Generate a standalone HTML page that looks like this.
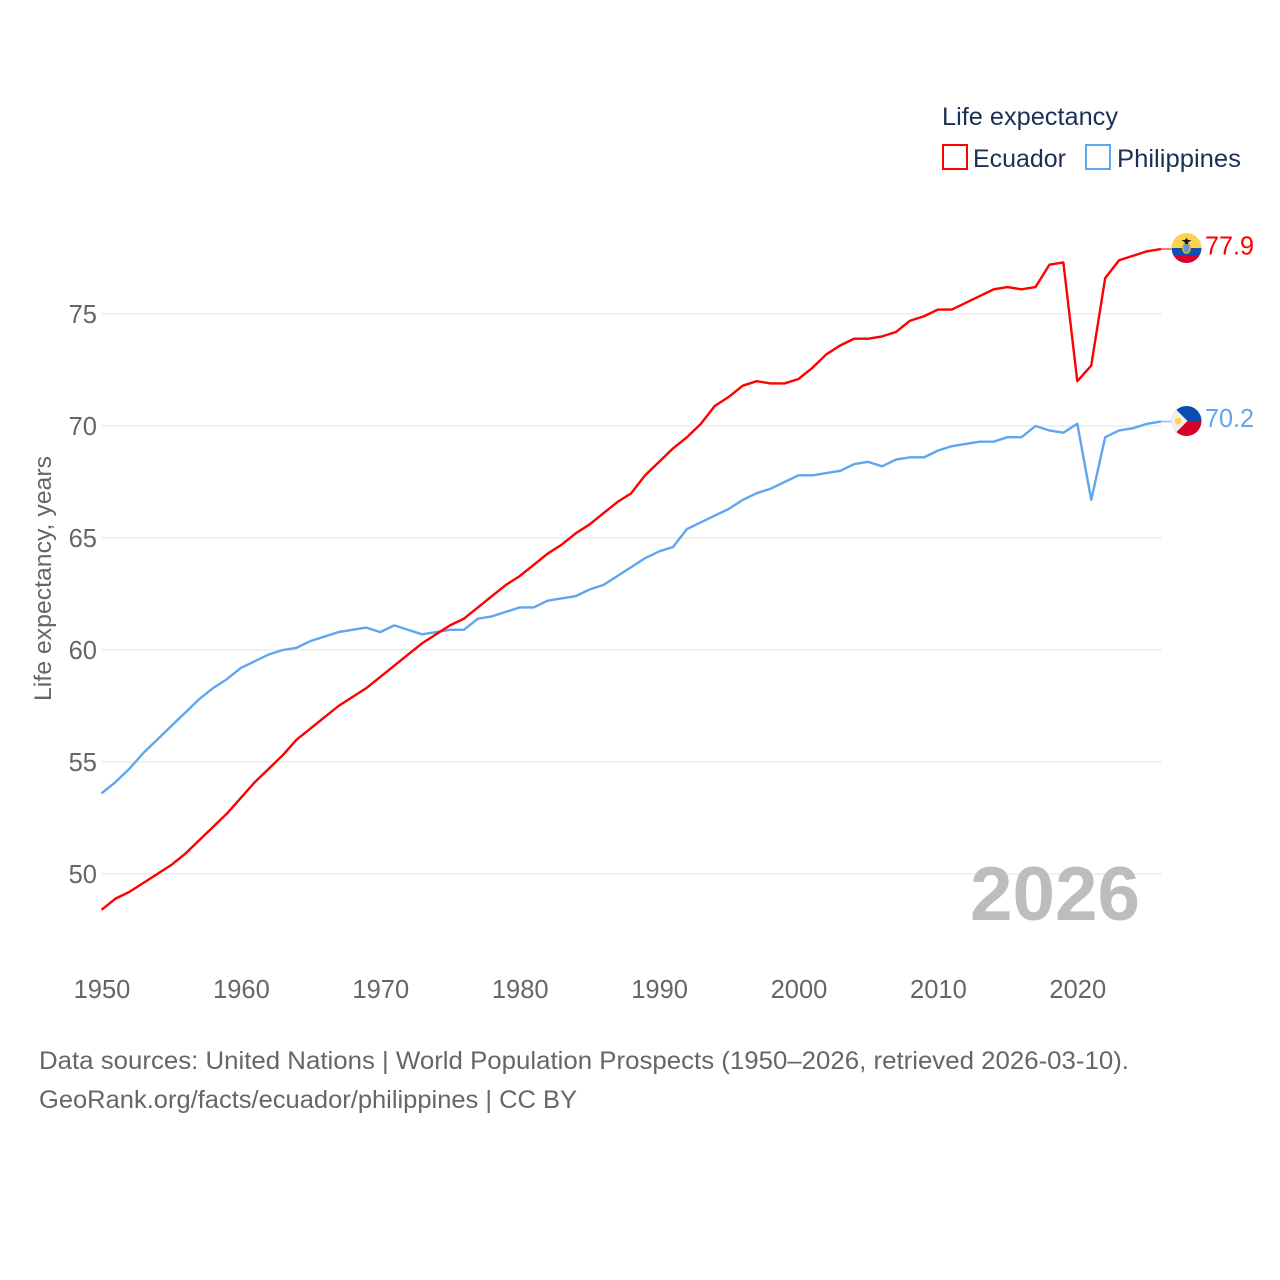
<!DOCTYPE html>
<html lang="en">
<head>
<meta charset="utf-8">
<title>Life expectancy: Ecuador and Philippines</title>
<style>
  html, body { margin: 0; padding: 0; background: #fff; }
  svg { display: block; font-family: "Liberation Sans", Arial, sans-serif; }
</style>
</head>
<body>
<svg id="chart" xmlns="http://www.w3.org/2000/svg" width="1280" height="1280" viewBox="0 0 1280 1280">
  <defs>
    <clipPath id="clip-ec"><circle cx="1186.5" cy="248" r="15"></circle></clipPath>
    <clipPath id="clip-ph"><circle cx="1186.5" cy="421" r="15"></circle></clipPath>
  </defs>
  <rect width="1280" height="1280" fill="#ffffff"></rect>

  <g id="grid"></g>
  <g id="y-ticks"></g>
  <g id="x-ticks"></g>

  <text transform="translate(51,701) rotate(-90)" font-size="24.5" fill="#666666" textLength="245" lengthAdjust="spacingAndGlyphs">Life expectancy, years</text>

  <text x="970" y="920" font-size="76" font-weight="700" fill="#bdbdbd" textLength="170" lengthAdjust="spacingAndGlyphs">2026</text>

  <g id="series"></g>

  <g clip-path="url(#clip-ec)">
    <rect x="1171" y="233" width="31" height="15" fill="#fdd24f"></rect>
    <rect x="1171" y="248" width="31" height="8" fill="#0f4fb0"></rect>
    <rect x="1171" y="256" width="31" height="8" fill="#d80027"></rect>
    <ellipse cx="1186.5" cy="248" rx="4.5" ry="6" fill="#e8a93a"></ellipse>
    <ellipse cx="1186.5" cy="248" rx="3" ry="4.5" fill="#5b9bd5"></ellipse>
    <path d="M1181.5 240 L1191.5 240 L1188 242.5 L1188 244 L1185 244 L1185 242.5 Z" fill="#1a1a1a"></path>
    <path d="M1186.5 238 L1188 240 L1185 240 Z" fill="#1a1a1a"></path>
  </g>

  <g clip-path="url(#clip-ph)">
    <rect x="1171" y="406" width="31" height="15" fill="#0a4db0"></rect>
    <rect x="1171" y="421" width="31" height="16" fill="#d80027"></rect>
    <path d="M1171.5 405 L1187.5 421 L1171.5 437 Z" fill="#f0f0f0"></path>
    <circle cx="1178" cy="421" r="3.5" fill="#ffd54f"></circle>
  </g>

  <g>
    <text x="942" y="125" font-size="25" fill="#1a3055" textLength="176" lengthAdjust="spacingAndGlyphs">Life expectancy</text>
    <g>
      <rect x="943" y="145" width="24" height="24" fill="none" stroke="#ff0000" stroke-width="2"></rect>
      <text x="973" y="167" font-size="25" fill="#1a3055" textLength="93" lengthAdjust="spacingAndGlyphs">Ecuador</text>
    </g>
    <g>
      <rect x="1086" y="145" width="24" height="24" fill="none" stroke="#60a5ef" stroke-width="2"></rect>
      <text x="1117" y="167" font-size="25" fill="#1a3055" textLength="124" lengthAdjust="spacingAndGlyphs">Philippines</text>
    </g>
  </g>

  <text x="39" y="1069" font-size="25" fill="#666666" textLength="1090" lengthAdjust="spacingAndGlyphs">Data sources: United Nations | World Population Prospects (1950–2026, retrieved 2026-03-10).</text>
  <text x="39" y="1108" font-size="25" fill="#666666" textLength="538" lengthAdjust="spacingAndGlyphs">GeoRank.org/facts/ecuador/philippines | CC BY</text>
</svg>

<script>
const years = [1950,1951,1952,1953,1954,1955,1956,1957,1958,1959,1960,1961,1962,1963,1964,1965,1966,1967,1968,1969,1970,1971,1972,1973,1974,1975,1976,1977,1978,1979,1980,1981,1982,1983,1984,1985,1986,1987,1988,1989,1990,1991,1992,1993,1994,1995,1996,1997,1998,1999,2000,2001,2002,2003,2004,2005,2006,2007,2008,2009,2010,2011,2012,2013,2014,2015,2016,2017,2018,2019,2020,2021,2022,2023,2024,2025,2026];
const ecuadorValues = [48.4,48.9,49.2,49.6,50.0,50.4,50.9,51.5,52.1,52.7,53.4,54.1,54.7,55.3,56.0,56.5,57.0,57.5,57.9,58.3,58.8,59.3,59.8,60.3,60.7,61.1,61.4,61.9,62.4,62.9,63.3,63.8,64.3,64.7,65.2,65.6,66.1,66.6,67.0,67.8,68.4,69.0,69.5,70.1,70.9,71.3,71.8,72.0,71.9,71.9,72.1,72.6,73.2,73.6,73.9,73.9,74.0,74.2,74.7,74.9,75.2,75.2,75.5,75.8,76.1,76.2,76.1,76.2,77.2,77.3,72.0,72.7,76.6,77.4,77.6,77.8,77.9];
const philippinesValues = [53.6,54.1,54.7,55.4,56.0,56.6,57.2,57.8,58.3,58.7,59.2,59.5,59.8,60.0,60.1,60.4,60.6,60.8,60.9,61.0,60.8,61.1,60.9,60.7,60.8,60.9,60.9,61.4,61.5,61.7,61.9,61.9,62.2,62.3,62.4,62.7,62.9,63.3,63.7,64.1,64.4,64.6,65.4,65.7,66.0,66.3,66.7,67.0,67.2,67.5,67.8,67.8,67.9,68.0,68.3,68.4,68.2,68.5,68.6,68.6,68.9,69.1,69.2,69.3,69.3,69.5,69.5,70.0,69.8,69.7,70.1,66.7,69.5,69.8,69.9,70.1,70.2];
const yTickValues = [50,55,60,65,70,75];
const xTickValues = [1950,1960,1970,1980,1990,2000,2010,2020];

const NS = 'http://www.w3.org/2000/svg';
const xScale = function (year) { return 101.5 + (year - 1950) * 13.94; };
const yScale = function (value) { return 874 - (value - 50) * 22.4; };

const gridGroup = document.getElementById('grid');
const yTickGroup = document.getElementById('y-ticks');
const xTickGroup = document.getElementById('x-ticks');
const seriesGroup = document.getElementById('series');

yTickValues.forEach(function (v) {
  const line = document.createElementNS(NS, 'line');
  
  
  line.setAttribute('x1', xScale(1950));
  line.setAttribute('x2', xScale(2026) + 1);
  line.setAttribute('y1', yScale(v));
  line.setAttribute('y2', yScale(v));
  line.setAttribute('stroke', '#ececec');
  line.setAttribute('stroke-width', '1.5');
  gridGroup.appendChild(line);

  const label = document.createElementNS(NS, 'text');
  
  
  label.setAttribute('x', 97);
  label.setAttribute('y', yScale(v) + 9);
  label.setAttribute('text-anchor', 'end');
  label.setAttribute('font-size', '25.5');
  label.setAttribute('fill', '#666666');
  label.textContent = v;
  yTickGroup.appendChild(label);
});

xTickValues.forEach(function (yr) {
  const label = document.createElementNS(NS, 'text');
  
  
  label.setAttribute('x', xScale(yr) + 0.5);
  label.setAttribute('y', 998);
  label.setAttribute('text-anchor', 'middle');
  label.setAttribute('font-size', '25.5');
  label.setAttribute('fill', '#666666');
  label.textContent = yr;
  xTickGroup.appendChild(label);
});

function drawSeries(key, values, color) {
  const pts = values.map(function (v, i) {
    return xScale(years[i]).toFixed(2) + ',' + yScale(v).toFixed(2);
  });
  const last = values[values.length - 1];
  const lastX = xScale(years[years.length - 1]);

  const poly = document.createElementNS(NS, 'polyline');
  
  
  poly.setAttribute('points', pts.join(' '));
  poly.setAttribute('fill', 'none');
  poly.setAttribute('stroke', color);
  poly.setAttribute('stroke-width', '2.4');
  poly.setAttribute('stroke-linejoin', 'round');
  seriesGroup.appendChild(poly);

  const connector = document.createElementNS(NS, 'line');
  
  
  connector.setAttribute('x1', lastX);
  connector.setAttribute('x2', lastX + 10);
  connector.setAttribute('y1', yScale(last));
  connector.setAttribute('y2', yScale(last));
  connector.setAttribute('stroke', color);
  connector.setAttribute('stroke-width', '1.6');
  connector.setAttribute('opacity', '0.7');
  seriesGroup.appendChild(connector);

  const valueLabel = document.createElementNS(NS, 'text');
  
  
  valueLabel.setAttribute('x', 1205);
  valueLabel.setAttribute('y', yScale(last) + 5.5);
  valueLabel.setAttribute('font-size', '25.5');
  valueLabel.setAttribute('fill', color);
  valueLabel.setAttribute('textLength', '49');
  valueLabel.setAttribute('lengthAdjust', 'spacingAndGlyphs');
  valueLabel.textContent = last.toFixed(1);
  seriesGroup.appendChild(valueLabel);
}

drawSeries('philippines', philippinesValues, '#60a5ef');
drawSeries('ecuador', ecuadorValues, '#ff0000');
</script>
</body>
</html>
